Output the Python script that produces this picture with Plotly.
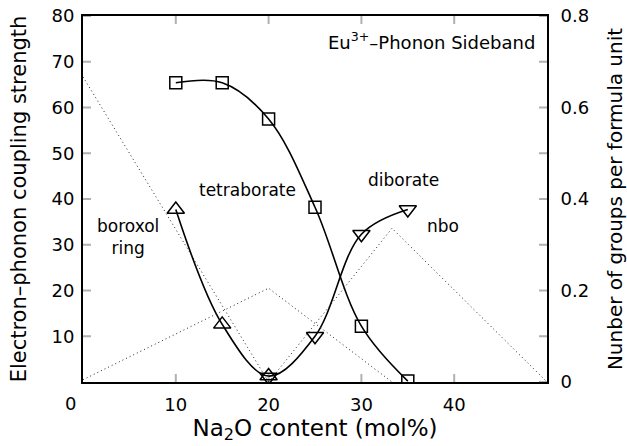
import plotly.graph_objects as go

# ---- data ----
# markers (left axis units)
tetra_x = [10, 15, 20, 25, 30, 35]
tetra_y = [65.4, 65.4, 57.5, 38.2, 12.2, 0.2]
borox_x = [10, 15, 20]
borox_y = [37.7, 12.6, 1.3]
dibor_x = [20, 25, 30, 35]
dibor_y = [1.1, 10.0, 32.3, 37.7]

# dotted structural model lines (right axis units)
borox_model_x = [0, 20]
borox_model_y = [0.667, 0.0]
tetra_model_x = [0, 20, 33.3]
tetra_model_y = [0.005, 0.205, 0.0]
nbo_model_x = [20, 33.3, 50]
nbo_model_y = [0.0, 0.336, 0.0]

x_ticks = [10, 20, 30, 40]
y_ticks = [10, 20, 30, 40, 50, 60, 70, 80]
y2_ticks = [0, 0.1, 0.2, 0.3, 0.4, 0.5, 0.6, 0.7, 0.8]
y2_labels = ["0", " ", "0.2", " ", "0.4", " ", "0.6", " ", "0.8"]

FONT = "DejaVu Sans"
fig = go.Figure()

dot = dict(color="#222", width=1, dash="1px,3px")
for mx, my in [(borox_model_x, borox_model_y), (tetra_model_x, tetra_model_y), (nbo_model_x, nbo_model_y)]:
    fig.add_trace(go.Scatter(x=mx, y=my, mode="lines", line=dot, yaxis="y2",
                             showlegend=False, hoverinfo="skip"))

# solid smooth curves
fig.add_trace(go.Scatter(x=tetra_x, y=tetra_y, mode="lines",
                         line=dict(color="black", width=1.6, shape="spline", smoothing=1.0),
                         showlegend=False))
fig.add_trace(go.Scatter(x=borox_x + dibor_x[1:], y=borox_y + dibor_y[1:], mode="lines",
                         line=dict(color="black", width=1.6, shape="spline", smoothing=1.0),
                         showlegend=False))

mline = dict(color="black", width=1.5)
fig.add_trace(go.Scatter(x=tetra_x, y=tetra_y, mode="markers",
                         marker=dict(symbol="square-open", color="black", size=12, line=mline),
                         showlegend=False))
fig.add_trace(go.Scatter(x=borox_x, y=borox_y, mode="markers",
                         marker=dict(symbol="triangle-up-open", color="black", size=15, line=mline),
                         showlegend=False))
fig.add_trace(go.Scatter(x=dibor_x, y=dibor_y, mode="markers",
                         marker=dict(symbol="triangle-down-open", color="black", size=15, line=mline),
                         showlegend=False))

ann_font = dict(family=FONT, size=17, color="black")
annotations = [
    dict(x=48.9, y=74.6, text="Eu<sup>3+</sup>–Phonon Sideband", xanchor="right", yanchor="middle",
         font=dict(family=FONT, size=18, color="black")),
    dict(x=17.7, y=41.9, text="tetraborate", xanchor="center", yanchor="middle"),
    dict(x=34.5, y=44.1, text="diborate", xanchor="center", yanchor="middle"),
    dict(x=4.85, y=31.7, text="boroxol<br>ring", xanchor="center", yanchor="middle"),
    dict(x=38.8, y=34.2, text="nbo", xanchor="center", yanchor="middle"),
    dict(x=0, y=0, text="0", xanchor="center", yanchor="middle", xshift=-13, yshift=-21,
         font=dict(family=FONT, size=18, color="black")),
]
for a in annotations:
    a.setdefault("font", ann_font)
    a.update(xref="x", yref="y", showarrow=False)

# inward tick marks, placed at the tick values through the axes' own scales
tick_line = dict(color="black", width=2)
shapes = []
for xv in x_ticks:
    shapes.append(dict(type="line", xref="x", yref="paper", ysizemode="pixel", yanchor=0,
                       x0=xv, x1=xv, y0=0, y1=8, line=tick_line, layer="above"))
    shapes.append(dict(type="line", xref="x", yref="paper", ysizemode="pixel", yanchor=1,
                       x0=xv, x1=xv, y0=0, y1=-8, line=tick_line, layer="above"))
for yv in y_ticks:
    shapes.append(dict(type="line", xref="paper", yref="y", xsizemode="pixel", xanchor=0,
                       x0=0, x1=8, y0=yv, y1=yv, line=tick_line, layer="above"))
for yv in y2_ticks:
    shapes.append(dict(type="line", xref="paper", yref="y2", xsizemode="pixel", xanchor=1,
                       x0=0, x1=-8, y0=yv, y1=yv, line=tick_line, layer="above"))

axis_common = dict(showline=True, linewidth=2, linecolor="black", ticks="",
                   showgrid=False, zeroline=False, automargin=False,
                   tickfont=dict(family=FONT, size=18, color="black"))

fig.update_layout(
    template="simple_white",
    width=627, height=446,
    margin=dict(l=83, r=80, t=16, b=64),
    plot_bgcolor="white", paper_bgcolor="white",
    font=dict(family=FONT, color="black"),
    xaxis=dict(range=[0, 50], tickmode="array", tickvals=x_ticks, mirror=True,
               ticklabelstandoff=5,
               title=dict(text="Na<sub>2</sub>O content (mol%)",
                          font=dict(family=FONT, size=23), standoff=4),
               **axis_common),
    yaxis=dict(range=[0, 80], tickmode="array", tickvals=y_ticks,
               ticklabelstandoff=3,
               title=dict(text="Electron–phonon coupling strength",
                          font=dict(family=FONT, size=21), standoff=19),
               **axis_common),
    yaxis2=dict(range=[0, 0.8], tickmode="array", tickvals=y2_ticks, ticktext=y2_labels,
                overlaying="y", side="right",
                title=dict(text="Nunber of groups per formula unit",
                           font=dict(family=FONT, size=20), standoff=21),
                ticklabelstandoff=8,
                **axis_common),
    annotations=annotations,
    shapes=shapes,
)

fig.write_html("out.html")
